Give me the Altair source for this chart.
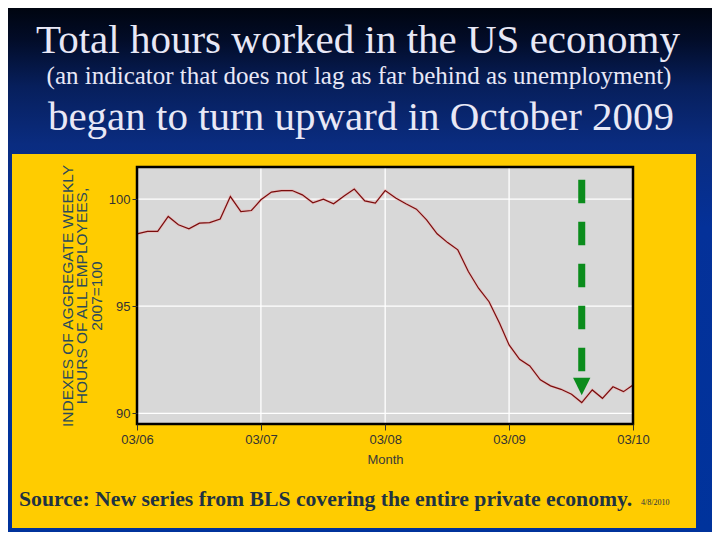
import altair as alt
import pandas as pd

# ---------------- data ----------------
months = [
    "2006-03-01", "2006-04-01", "2006-05-01", "2006-06-01", "2006-07-01", "2006-08-01",
    "2006-09-01", "2006-10-01", "2006-11-01", "2006-12-01", "2007-01-01", "2007-02-01",
    "2007-03-01", "2007-04-01", "2007-05-01", "2007-06-01", "2007-07-01", "2007-08-01",
    "2007-09-01", "2007-10-01", "2007-11-01", "2007-12-01", "2008-01-01", "2008-02-01",
    "2008-03-01", "2008-04-01", "2008-05-01", "2008-06-01", "2008-07-01", "2008-08-01",
    "2008-09-01", "2008-10-01", "2008-11-01", "2008-12-01", "2009-01-01", "2009-02-01",
    "2009-03-01", "2009-04-01", "2009-05-01", "2009-06-01", "2009-07-01", "2009-08-01",
    "2009-09-01", "2009-10-01", "2009-11-01", "2009-12-01", "2010-01-01", "2010-02-01",
    "2010-03-01",
]
hours_index = [
    98.38, 98.49, 98.49, 99.19, 98.80, 98.61, 98.88, 98.90, 99.07, 100.12, 99.42, 99.47,
    99.97, 100.33, 100.40, 100.40, 100.20, 99.83, 100.00, 99.78, 100.15, 100.47, 99.92, 99.81,
    100.40, 100.05, 99.78, 99.53, 99.03, 98.38, 97.97, 97.63, 96.62, 95.84, 95.21, 94.20,
    93.19, 92.52, 92.21, 91.56, 91.28, 91.12, 90.89, 90.50, 91.09, 90.70, 91.24, 91.01,
    91.32,
]
x_tick_dates = ["2006-03-01", "2007-03-01", "2008-03-01", "2009-03-01", "2010-03-01"]
y_tick_values = [90, 95, 100]
arrow_month = "2009-10-01"
arrow_top, arrow_dash_end, arrow_head = 100.9, 91.94, 91.25

title1 = "Total hours worked in the US economy"
title2 = "(an indicator that does not lag as far behind as unemployment)"
title3 = "began to turn upward in October 2009"
source_text = "Source: New series from BLS covering the entire private economy."
date_text = "4/8/2010"
y_title = ["INDEXES OF AGGREGATE WEEKLY", "HOURS OF ALL EMPLOYEES,", "2007=100"]
x_title = "Month"

df = pd.DataFrame({"date": months, "value": hours_index})
grid_x = pd.DataFrame({"date": x_tick_dates})
grid_y = pd.DataFrame({"value": y_tick_values})
arrow_df = pd.DataFrame({"date": [arrow_month], "value": [arrow_top], "value2": [arrow_dash_end]})
head_df = pd.DataFrame({"date": [arrow_month], "value": [arrow_head]})

# ---------------- layout ----------------
W, H = 496, 257
PL, PT, PR, PB = 129, 159, 79, 108

xscale = alt.Scale(domain=[alt.DateTime(year=2006, month=3, date=1),
                           alt.DateTime(year=2010, month=3, date=1)], nice=False)
yscale = alt.Scale(domain=[89.5, 101.5], nice=False, zero=False)

x_axis = alt.Axis(
    values=[alt.DateTime(year=y, month=3, date=1) for y in range(2006, 2011)],
    format="%m/%y", title=x_title, grid=False, domain=False,
    labelFont="Liberation Sans", labelFontSize=13, labelColor="#333333",
    tickColor="#333333", tickSize=6, labelPadding=3,
    titleFont="Liberation Sans", titleFontSize=13, titleFontWeight="normal",
    titleColor="#3a3a3a", titlePadding=7, zindex=1, labelFlush=False, labelOverlap=False,
)
y_axis = alt.Axis(
    values=y_tick_values, title=y_title, grid=False, domain=False,
    labelFont="Liberation Sans", labelFontSize=13, labelColor="#333333",
    tickColor="#333333", tickSize=5, labelPadding=2,
    titleFont="Liberation Sans", titleFontSize=15.5, titleFontWeight="normal",
    titleColor="#2b4a5a", titlePadding=4, titleLineHeight=14.5, zindex=1,
)

X = alt.X("date:T", scale=xscale, axis=x_axis)
Y = alt.Y("value:Q", scale=yscale, axis=y_axis)

one = lambda d: alt.Data(values=[d])

bg = alt.Chart(one({"a": 1})).mark_rect(
    fill={"gradient": "linear", "x1": 0, "y1": 0, "x2": 0, "y2": 1,
          "stops": [{"offset": 0, "color": "#000510"},
                    {"offset": 0.06, "color": "#020c28"},
                    {"offset": 0.15, "color": "#071f5c"},
                    {"offset": 0.26, "color": "#0a2c80"},
                    {"offset": 0.42, "color": "#043199"},
                    {"offset": 1, "color": "#00339c"}]}
).encode(x=alt.value(-PL), x2=alt.value(W + PR), y=alt.value(-PT), y2=alt.value(H + PB))

panel = alt.Chart(one({"a": 1})).mark_rect(fill="#ffcc00").encode(
    x=alt.value(-125), x2=alt.value(559), y=alt.value(-13), y2=alt.value(361))

plotbg = alt.Chart(one({"a": 1})).mark_rect(fill="#d8d8d8").encode(
    x=alt.value(0), x2=alt.value(W), y=alt.value(0), y2=alt.value(H))

gy = alt.Chart(grid_y).mark_rule(color="white", strokeWidth=1.3).encode(y=Y)
gx = alt.Chart(grid_x).mark_rule(color="white", strokeWidth=1.3).encode(x=X)

halo = alt.Chart(df).mark_line(color="#f0a8a8", strokeWidth=3, opacity=0.45).encode(x=X, y=Y)
line = alt.Chart(df).mark_line(color="#7a0c0c", strokeWidth=1.2).encode(x=X, y=Y)

arrow = alt.Chart(arrow_df).mark_rule(
    color="#0b8c1c", strokeWidth=7, strokeDash=[23.3, 18.7], strokeCap="butt").encode(
    x=X, y=Y, y2="value2:Q")
head = alt.Chart(head_df).mark_point(
    shape="M-1,-1L1,-1L0,1Z", size=300, filled=True, fill="#0b8c1c", opacity=1, strokeWidth=0).encode(
    x=X, y=Y)

frame = alt.Chart(one({"a": 1})).mark_rect(fill=None, stroke="black", strokeWidth=2.5).encode(
    x=alt.value(0), x2=alt.value(W), y=alt.value(0), y2=alt.value(H))


def txt(s, x, y, size, color, align="center", weight="normal"):
    return alt.Chart(one({"t": s})).mark_text(
        font="Liberation Serif", fontSize=size, color=color, align=align,
        baseline="alphabetic", fontWeight=weight).encode(
        x=alt.value(x), y=alt.value(y), text="t:N")


light = "#e8e8f6"
texts = [
    txt(title1, 221, -114, 41, light),
    txt(title2, 222, -83, 25, light),
    txt(title3, 224, -37, 41, light),
    txt(source_text, -118, 339, 21.7, "#1f3342", align="left", weight="bold"),
    txt(date_text, 504, 338, 8, "#1f3342", align="left"),
]

chart = alt.layer(bg, panel, plotbg, gy, gx, halo, line, arrow, head, frame, *texts).properties(
    width=W, height=H,
    padding={"left": PL, "top": PT, "right": PR, "bottom": PB},
    autosize=alt.AutoSizeParams(type="none"),
).configure_view(stroke=None)

chart.save("out.html", embed_options={"renderer": "svg", "actions": False})
